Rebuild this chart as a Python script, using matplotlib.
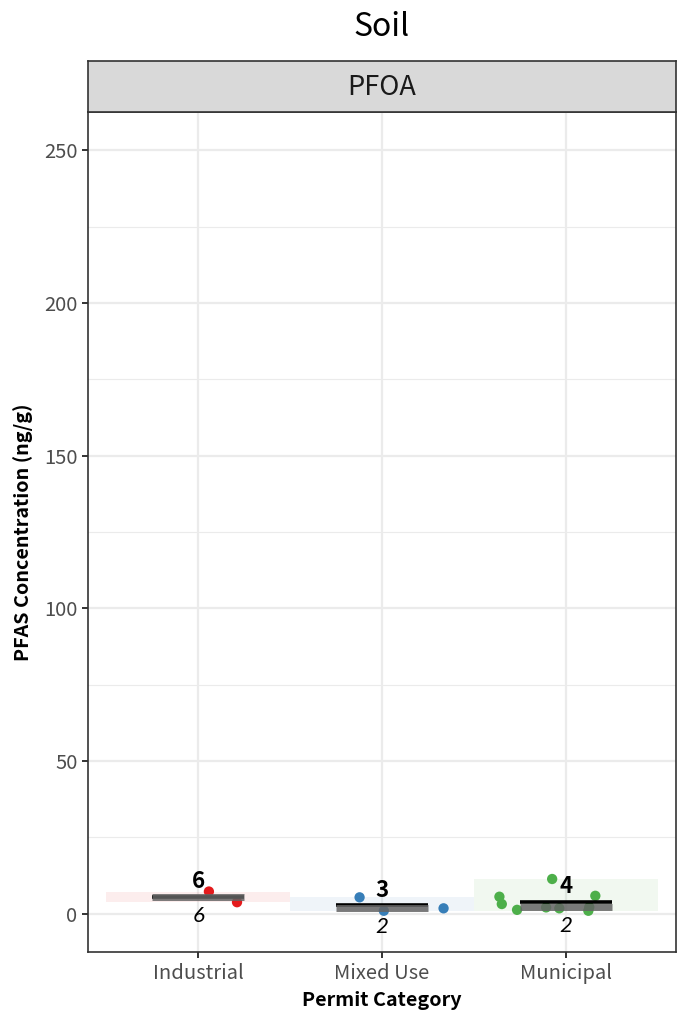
import numpy as np
import matplotlib
matplotlib.use("Agg")
import matplotlib.pyplot as plt
from matplotlib.patches import Rectangle

plt.rcParams['font.family'] = ['Noto Sans CJK SC', 'DejaVu Sans']

# ---- data ----
categories = ["Industrial", "Mixed Use", "Municipal"]
colors = ["#E41A1C", "#377EB8", "#4DAF4A"]
values = {
    "Industrial": [7.3, 3.8],
    "Mixed Use": [5.4, 1.0, 1.8],
    "Municipal": [11.4, 5.6, 3.2, 1.3, 2.1, 5.9, 1.0, 2.2, 1.8],
}
jitter = {
    "Industrial": [0.058, 0.211],
    "Mixed Use": [-0.122, 0.01, 0.335],
    "Municipal": [-0.074, -0.361, -0.348, -0.265, -0.107, 0.161, 0.123, 0.128, -0.035],
}
yticks = [0, 50, 100, 150, 200, 250]
title = "Soil"
facet = "PFOA"
xlabel = "Permit Category"
ylabel = "PFAS Concentration (ng/g)"

# ---- figure ----
W, H = 692, 1028
fig = plt.figure(figsize=(W / 100, H / 100), dpi=100)
pl, pr, pt, pb = 88, 676, 112, 952
ax = fig.add_axes([pl / W, 1 - pb / H, (pr - pl) / W, (pb - pt) / H])
ax.set_xlim(0.4, 3.6)
ax.set_ylim(-12.5, 262.5)

grid_c = "#ebebeb"
for y in yticks:
    ax.axhline(y, color=grid_c, lw=1.6, zorder=0)
for y in np.arange(25, 275, 50):
    ax.axhline(y, color=grid_c, lw=0.8, zorder=0)
for i in range(len(categories)):
    ax.axvline(i + 1, color=grid_c, lw=1.6, zorder=0)

for i, cat in enumerate(categories):
    xc = i + 1
    v = np.array(values[cat])
    ax.add_patch(Rectangle((xc - 0.5, v.min()), 1.0, v.max() - v.min(),
                           facecolor=colors[i], alpha=0.08, lw=0, zorder=1))
    ax.scatter(xc + np.array(jitter[cat]), v, s=55, color=colors[i],
               edgecolor="none", zorder=3)
    mean = v.mean()
    med = np.median(v)
    ax.plot([xc - 0.25, xc + 0.25], [mean, mean], color="black", lw=2.6,
            solid_capstyle="butt", zorder=4)
    ax.plot([xc - 0.25, xc + 0.25], [med, med], color="#646464", lw=5.0,
            alpha=0.85, solid_capstyle="butt", zorder=5)
    ax.annotate(f"{mean:.0f}", (xc, mean), xytext=(0, 11),
                textcoords="offset points", ha="center", va="center",
                fontsize=16, fontweight="bold", color="black", zorder=6)
    ax.annotate(f"{med:.0f}", (xc, med), xytext=(0, -13.5),
                textcoords="offset points", ha="center", va="center",
                fontsize=16, fontstyle="italic", family=["Lato", "DejaVu Sans"],
                color="black", zorder=6)

ax.set_xticks(range(1, len(categories) + 1))
ax.set_xticklabels(categories)
ax.set_yticks(yticks)
ax.tick_params(axis="both", colors="#333333", width=1.4, length=4,
               labelsize=14.5, labelcolor="#4d4d4d")
ax.tick_params(axis="x", pad=4)
for s in ax.spines.values():
    s.set_color("#333333")
    s.set_linewidth(1.2)

ax.set_xlabel(xlabel, fontsize=14.2, fontweight="bold", labelpad=5)
ax.set_ylabel(ylabel, fontsize=14.2, fontweight="bold", labelpad=8)

# facet strip
sax = fig.add_axes([pl / W, 1 - pt / H, (pr - pl) / W, (pt - 61) / H])
sax.set_facecolor("#d9d9d9")
sax.set_xticks([])
sax.set_yticks([])
for s in sax.spines.values():
    s.set_color("#333333")
    s.set_linewidth(1.2)
sax.text(0.5, 0.48, facet, ha="center", va="center", fontsize=19.5,
         color="#1a1a1a", transform=sax.transAxes)

fig.text(382 / W, 1 - 27 / H, title, ha="center", va="center", fontsize=23)

fig.savefig("out.png", dpi=100)
